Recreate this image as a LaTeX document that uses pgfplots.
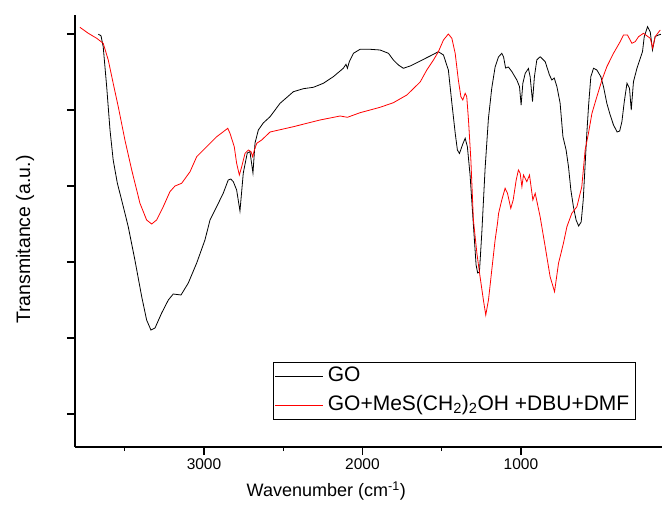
\documentclass[border=0pt]{standalone}
\usepackage{pgfplots}
\usepackage{pgfplotstable}
\pgfplotsset{compat=1.18}
\usepackage{fontspec}
\setmainfont{Liberation Sans}

% FTIR spectra: wavenumber (cm^-1) vs. transmittance (arbitrary units)
\pgfplotstableread{
wn y
3667 412.7
3650 411.3
3636 400.3
3614 360.3
3593 317
3573 287
3547 264
3509 240.3
3478 220.3
3436 187
3393 150.3
3362 127
3335 117
3309 119
3267 134
3225 147
3194 153
3145 152
3099 164
3046 184
2994 207
2962 227
2920 240.3
2878 254
2847 267
2831 268
2815 265.3
2794 257
2773 236
2752 274
2727 294
2710 295.3
2691 274
2678 304
2657 317
2626 324
2583 330.3
2520 343.7
2436 355.3
2373 358.3
2310 359.7
2247 363.7
2184 370.3
2121 378.7
2104 382.7
2095 378.7
2083 385.3
2057 393.7
2015 397.7
1952 397.7
1889 397
1836 393.7
1805 387
1773 382
1742 378.7
1699 381
1636 386
1573 391
1521 395.3
1489 392
1458 377
1436 344
1415 314
1401 297
1388 293.5
1367 303
1352 308.7
1338 300.3
1321 272
1300 222
1283 182
1273 174
1262 175
1247 214
1226 279
1205 329
1184 359
1163 380
1142 390
1121 393.7
1110 390.3
1097 379
1079 380
1057 375.3
1026 367
1009 360.3
999 342
988 363.7
973 373.7
953 378.5
942 370.3
927 345.5
915 370.3
900 387
879 390.3
847 385.3
820 372
805 367
790 369
773 360.3
753 344
735 310.3
715 297
700 280.3
685 257
669 240.3
652 227
636 221
620 225
607 247
585 312
573 342
559 370.3
542 378.7
521 377
496 370.3
479 360.3
458 343.7
437 332
416 322
393 315
377 316
363 325.3
348 345.3
331 363.7
315 358.7
304 337
290 365.3
268 378.7
247 388.7
233 395.3
222 410.3
201 420.3
184 415
170 397
153 410.5
132 412
117 412.7
}\goData

\pgfplotstableread{
wn y
3783 419.7
3730 413.7
3677 408.7
3636 403.7
3604 387
3573 363.7
3541 340.3
3499 307
3456 277
3404 243.7
3362 227
3330 223
3299 227
3257 240.3
3215 255.3
3183 261
3141 263.7
3088 275.3
3046 290.3
2983 300.3
2920 310.3
2878 315.3
2850 318.7
2836 313.7
2809 300.3
2794 283.7
2777 272
2762 280.3
2741 293.7
2720 297
2703 295.3
2693 290.3
2682 297
2667 303.7
2636 307
2583 315
2436 320.3
2268 327
2141 331
2095 329.7
2015 334.3
1889 339.7
1805 344.3
1720 352
1636 365
1594 377
1552 387
1521 395.3
1489 407
1458 413
1436 408.7
1415 393.7
1395 367
1379 350.3
1367 347
1352 353.7
1342 350.3
1331 327
1316 287
1300 227
1278 193.7
1258 170.3
1237 147
1222 132
1205 147
1184 177
1163 207
1148 223.7
1141 233.7
1121 247
1100 258.7
1085 253.7
1064 238.7
1049 247
1030 267
1016 277
1005 273.7
994 260.3
984 272
963 265.3
946 272
925 247
910 253.7
879 230.3
847 200.3
816 170.3
788 155.3
763 183.7
732 203.7
710 220.3
679 233.7
647 240.3
616 260.3
595 297
574 313.7
552 333.7
521 350.3
489 367
458 380.3
416 393.7
374 405.3
353 412
328 412
300 403.7
279 405.3
258 410.3
227 413.7
184 408.7
169 399
153 410.3
121 417
}\modData

\begin{document}
\begin{tikzpicture}
\useasboundingbox (-75pt,-70pt) rectangle (587pt,447pt);
\begin{axis}[
  at={(0,0)}, anchor=south west,
  scale only axis, width=587pt, height=432pt,
  x dir=reverse,
  xmin=110, xmax=3814, ymin=0, ymax=432,
  axis x line*=bottom, axis y line*=left,
  axis line style={line width=1.2pt},
  tick align=outside,
  major tick length=8pt, minor tick length=4pt,
  every tick/.style={black, line width=1.2pt},
  xtick={1000,2000,3000}, xticklabels={1000,2000,3000},
  minor xtick={1500,2500,3500},
  ytick={33,109,185,261,337,413}, yticklabels={},
  xticklabel style={font=\fontsize{15.5}{18}\selectfont, anchor=base, yshift=-14pt},
  xlabel={Wavenumber (cm\textsuperscript{-1})},
  ylabel={Transmitance (a.u.)},
  every axis x label/.style={at={(axis description cs:0.428,-0.1157)}, anchor=base, font=\fontsize{18}{22}\selectfont},
  every axis y label/.style={at={(axis description cs:-0.0852,0.48)}, rotate=90, anchor=center, font=\fontsize{19.5}{23}\selectfont},
  legend style={at={(axis description cs:0.337,0.197)}, anchor=north west,
    draw=black, line width=0.5pt, font=\fontsize{21}{25}\selectfont,
    inner xsep=2pt, inner ysep=1pt, row sep=3pt,
    nodes={inner xsep=4pt, inner ysep=2pt, text height=16pt, text depth=6pt}},
  legend cell align=left,
  legend image code/.code={\draw[#1] (0pt,0pt) -- (48pt,0pt);},
]
\addplot[black, line width=0.8pt] table[x=wn, y=y] {\goData};
\addlegendentry{GO}
\addplot[red, line width=0.8pt] table[x=wn, y=y] {\modData};
\addlegendentry{GO+MeS(CH\textsubscript{2})\textsubscript{2}OH +DBU+DMF}
\end{axis}
\end{tikzpicture}
\end{document}
